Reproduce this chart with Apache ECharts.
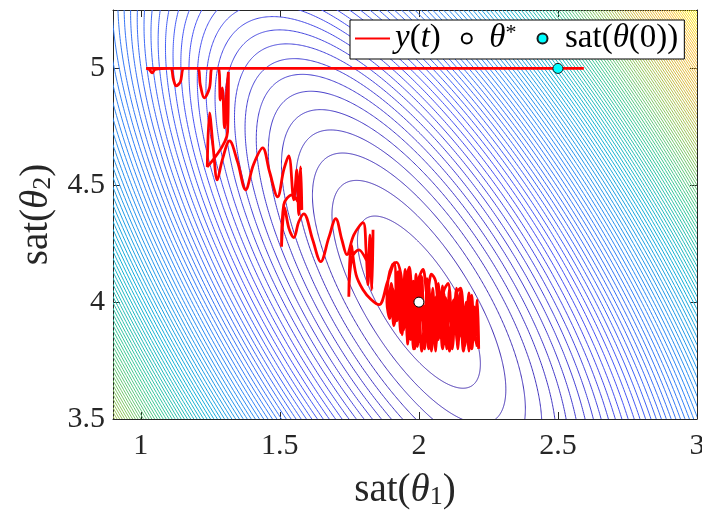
<!DOCTYPE html>
<html><head><meta charset="utf-8">
<script src="https://cdn.jsdelivr.net/npm/echarts@6/dist/echarts.min.js"></script>
<style>html,body{margin:0;padding:0;background:#fff}#c{width:702px;height:510px}</style>
</head><body><div id="c"></div>
<script>
// ---- data ----
const xTickVals = [1, 1.5, 2, 2.5, 3];
const yTickVals = [3.5, 4, 4.5, 5];
const xLim = [0.9, 3];
const yLim = [3.5, 5.25];
const thetaStar = [[2, 4]];
const theta0 = [[2.5, 5]];
// cost surface: J = a*u^2 + 2*b*u*v + c*v^2, u = x - cx, v = y - cy
const quadCenter = [2, 4];
const quadCoef = [1, 0.43, 0.36];
const nLevels = 110;
// trajectory y(t)
const trajX = [2.593,1.019,1.030,1.041,1.052,1.106,1.117,1.127,1.142,1.156,1.203,1.214,1.228,1.247,1.257,1.279,1.286,1.293,1.301,1.308,1.315,1.312,1.239,1.247,1.261,1.275,1.293,1.319,1.348,1.377,1.405,1.438,1.463,1.492,1.514,1.532,1.550,1.561,1.568,1.575,1.579,1.543,1.514,1.506,1.517,1.532,1.550,1.568,1.586,1.618,1.647,1.676,1.701,1.723,1.741,1.766,1.799,1.810,1.817,1.824,1.831,1.835,1.828,1.784,1.759,1.748,1.756,1.774,1.799,1.828,1.857,1.886,1.911,
1.92,1.93,1.94,1.95,1.96,1.97,1.98,1.99,2.00,2.01,2.02,2.03,2.04,2.05,2.06,2.07,2.08,2.09,2.10,2.11,2.12,2.13,2.14,2.15,2.16,2.17,2.18,2.19,2.20,2.21,2.215,
2.20,2.19,2.18,2.165,2.155,2.145,2.135,2.12,2.11,2.095,2.085,2.07,2.06,2.045,2.035,2.02,2.01,1.995,1.985,1.97,1.96,1.945,1.935,1.92,1.905,1.895,1.885,
1.89,1.905,1.92,1.935,1.945,1.955,1.965,1.975,1.99,2.00,2.015,2.03,2.045,2.06,2.075,2.09,2.105,2.12,2.135,2.15,2.165,2.18,2.195,2.21,
2.20,2.19,2.175,2.16,2.15,2.14,2.125,2.11,2.10,2.085,2.075,2.06,2.05,2.035,2.025,2.01,2.00,1.985,1.975,1.96,1.95,1.935,1.925,1.91,1.90,1.89,
1.90,1.915,1.925,1.94,1.955,1.97,1.98,1.995,2.005,2.02,2.035,2.05,2.065,2.08,2.095,2.11,2.125,2.14,2.155,2.17,2.185,2.20,2.21];
const trajY = [5.000,5.000,4.996,4.981,4.996,5.000,4.955,4.925,4.942,5.000,5.000,4.929,4.874,4.917,5.000,5.000,4.865,4.917,4.746,4.887,4.985,4.729,4.579,4.810,4.652,4.523,4.609,4.690,4.600,4.481,4.588,4.660,4.558,4.451,4.566,4.626,4.438,4.566,4.374,4.579,4.395,4.459,4.417,4.237,4.404,4.318,4.276,4.344,4.378,4.267,4.173,4.276,4.357,4.267,4.203,4.288,4.340,4.224,4.075,4.288,4.053,4.310,4.139,4.224,4.190,4.023,4.246,4.118,4.053,4.011,3.989,4.083,4.169,
3.95,4.10,3.86,4.14,3.82,4.08,3.80,4.12,3.83,4.05,3.80,4.10,3.82,4.06,3.79,4.08,3.84,4.04,3.80,4.06,3.83,4.02,3.80,4.05,3.82,4.00,3.79,4.03,3.84,4.01,3.80,
3.98,3.83,4.04,3.81,3.99,3.85,4.06,3.80,4.00,3.82,4.07,3.84,4.02,3.79,4.08,3.85,4.11,3.81,4.06,3.84,4.13,3.88,4.05,3.92,4.06,3.93,4.00,
4.10,4.16,4.17,4.12,4.02,4.10,4.15,4.05,3.95,4.10,4.14,4.03,4.12,4.09,3.92,4.05,4.08,3.90,4.04,4.06,3.88,4.02,3.95,3.86,
3.90,3.80,3.96,3.79,3.93,3.82,3.97,3.79,3.95,3.80,3.98,3.81,3.96,3.80,3.99,3.79,3.97,3.80,4.00,3.83,4.02,3.87,4.04,3.90,4.02,3.95,
4.08,3.97,4.13,3.92,4.07,3.88,4.09,3.86,4.04,3.87,4.06,3.85,4.03,3.86,4.02,3.85,4.01,3.86,4.00,3.85,3.98,3.86,3.81];

// ---- helpers ----
const FONT = "'Liberation Serif', 'Times New Roman', 'DejaVu Serif', serif";
const INK = '#262626';
const parulaStops = [
  [0.000, [62, 38, 168]], [0.125, [71, 82, 245]], [0.250, [46, 135, 247]],
  [0.375, [18, 176, 214]], [0.500, [56, 199, 150]], [0.625, [140, 199, 92]],
  [0.750, [214, 186, 60]], [0.875, [252, 191, 56]], [1.000, [249, 251, 14]]
];
function parula(t) {
  t = Math.max(0, Math.min(1, t));
  for (let i = 1; i < parulaStops.length; i++) {
    if (t <= parulaStops[i][0]) {
      const [t0, c0] = parulaStops[i - 1], [t1, c1] = parulaStops[i];
      const s = (t - t0) / (t1 - t0);
      const c = c0.map((v, k) => Math.round(v + (c1[k] - v) * s));
      return 'rgb(' + c.join(',') + ')';
    }
  }
  return 'rgb(249,251,14)';
}
const [qa, qb, qc] = quadCoef;
function J(x, y) { const u = x - quadCenter[0], v = y - quadCenter[1]; return qa*u*u + 2*qb*u*v + qc*v*v; }
const zmax = Math.max(J(xLim[0], yLim[0]), J(xLim[0], yLim[1]), J(xLim[1], yLim[0]), J(xLim[1], yLim[1]));
const levels = [];
for (let k = 1; k <= nLevels; k++) levels.push(zmax * k / (nLevels + 1));
const tr = qa + qc, det = qa*qc - qb*qb, disc = Math.sqrt(tr*tr/4 - det);
const lam1 = tr/2 + disc, lam2 = tr/2 - disc;
let e1 = [lam1 - qc, qb]; const n1 = Math.hypot(e1[0], e1[1]); e1 = [e1[0]/n1, e1[1]/n1];
const e2 = [-e1[1], e1[0]];

const richAxis = {
  n: { fontFamily: FONT, fontSize: 39, color: INK },
  i: { fontFamily: FONT, fontSize: 39, fontStyle: 'italic', color: INK },
  s: { fontFamily: FONT, fontSize: 26, color: INK, verticalAlign: 'bottom', lineHeight: 26, padding: [18, 0, 0, 0] }
};
const richTick = { t: { fontFamily: FONT, fontSize: 30, color: INK } };
const richLeg = {
  n: { fontFamily: FONT, fontSize: 33, color: '#000' },
  i: { fontFamily: FONT, fontSize: 33, fontStyle: 'italic', color: '#000' },
  p: { fontFamily: FONT, fontSize: 22, color: '#000', verticalAlign: 'top', lineHeight: 22, padding: [0, 0, 13, 0] }
};
function tickFmt(v) { return '{t|' + v + '}'; }
function axisCommon(pos, labels, ticks, margin) {
  return {
    type: 'value', position: pos,
    axisLine: { show: true, onZero: false, lineStyle: { color: INK, width: 1 } },
    axisTick: { show: true, inside: true, length: 7, customValues: ticks, lineStyle: { color: INK, width: 1 } },
    axisLabel: labels ? { show: true, customValues: ticks, formatter: tickFmt, rich: richTick, fontFamily: FONT, fontSize: 30, margin: margin } : { show: false },
    splitLine: { show: false }
  };
}
const chart = echarts.init(document.getElementById('c'));
chart.setOption({
  animation: false,
  backgroundColor: '#fff',
  textStyle: { fontFamily: FONT },
  grid: { left: 113, right: 5, top: 10, bottom: 91, containLabel: false, outerBoundsMode: 'none' },
  xAxis: [
    Object.assign(axisCommon('bottom', true, xTickVals, 12), { min: xLim[0], max: xLim[1],
      name: '{n|sat(}{i|θ}{s|1}{n|)}', nameLocation: 'middle', nameGap: 48,
      nameTextStyle: { rich: richAxis } }),
    Object.assign(axisCommon('top', false, xTickVals, 0), { min: xLim[0], max: xLim[1] })
  ],
  yAxis: [
    Object.assign(axisCommon('left', true, yTickVals, 8), { min: yLim[0], max: yLim[1],
      name: '{n|sat(}{i|θ}{s|2}{n|)}', nameLocation: 'middle', nameGap: 48,
      nameTextStyle: { rich: richAxis } }),
    Object.assign(axisCommon('right', false, yTickVals, 0), { min: yLim[0], max: yLim[1] })
  ],
  legend: {
    left: 350, top: 20, orient: 'horizontal',
    padding: [2, 6, 2, 5], itemGap: 20, itemWidth: 35, itemHeight: 10,
    backgroundColor: '#fff', borderColor: '#000', borderWidth: 1, borderRadius: 0,
    data: [
      { name: 'y(t)', icon: 'path://M0,0H0.05V0.05H0Z M0,4H35V6H0Z M34.95,9.95H35V10H34.95Z' },
      { name: 'θ*', icon: 'circle' },
      { name: 'sat(θ(0))', icon: 'circle' }
    ],
    formatter: function (name) {
      if (name === 'y(t)') return '{i|y}{n|(}{i|t}{n|)}';
      if (name === 'θ*') return '{i|θ}{p|*}';
      return '{n|sat(}{i|θ}{n|(0))}';
    },
    textStyle: { fontFamily: FONT, fontSize: 33, rich: richLeg }
  },
  series: [
    {
      type: 'custom', name: 'contours', coordinateSystem: 'cartesian2d', clip: true, silent: true, z: 1,
      data: levels.map((_, i) => [i]),
      encode: { x: 0 },
      renderItem: function (params, api) {
        const L = levels[api.value(0)];
        const r1 = Math.sqrt(L / lam1), r2 = Math.sqrt(L / lam2);
        const pts = [];
        for (let i = 0; i <= 720; i++) {
          const t = i / 720 * 2 * Math.PI;
          const u = r1*Math.cos(t)*e1[0] + r2*Math.sin(t)*e2[0];
          const v = r1*Math.cos(t)*e1[1] + r2*Math.sin(t)*e2[1];
          pts.push(api.coord([quadCenter[0] + u, quadCenter[1] + v]));
        }
        return { type: 'polyline', shape: { points: pts }, style: { stroke: parula(L / zmax), fill: null, lineWidth: 1 } };
      }
    },
    {
      type: 'line', name: 'y(t)', z: 5, clip: true,
      data: trajX.map((x, i) => [x, trajY[i]]),
      symbol: 'none', showSymbol: false, smooth: 0.35,
      lineStyle: { color: '#ff0000', width: 2.8 }, itemStyle: { color: '#ff0000' }
    },
    {
      type: 'scatter', name: 'θ*', z: 6, data: thetaStar, symbol: 'circle', symbolSize: 10,
      itemStyle: { color: '#ffffff', borderColor: '#000', borderWidth: 1, opacity: 1 }
    },
    {
      type: 'scatter', name: 'sat(θ(0))', z: 6, data: theta0, symbol: 'circle', symbolSize: 10,
      itemStyle: { color: '#00ffff', borderColor: '#1a1a1a', borderWidth: 1, opacity: 1 }
    }
  ]
});
</script></body></html>
